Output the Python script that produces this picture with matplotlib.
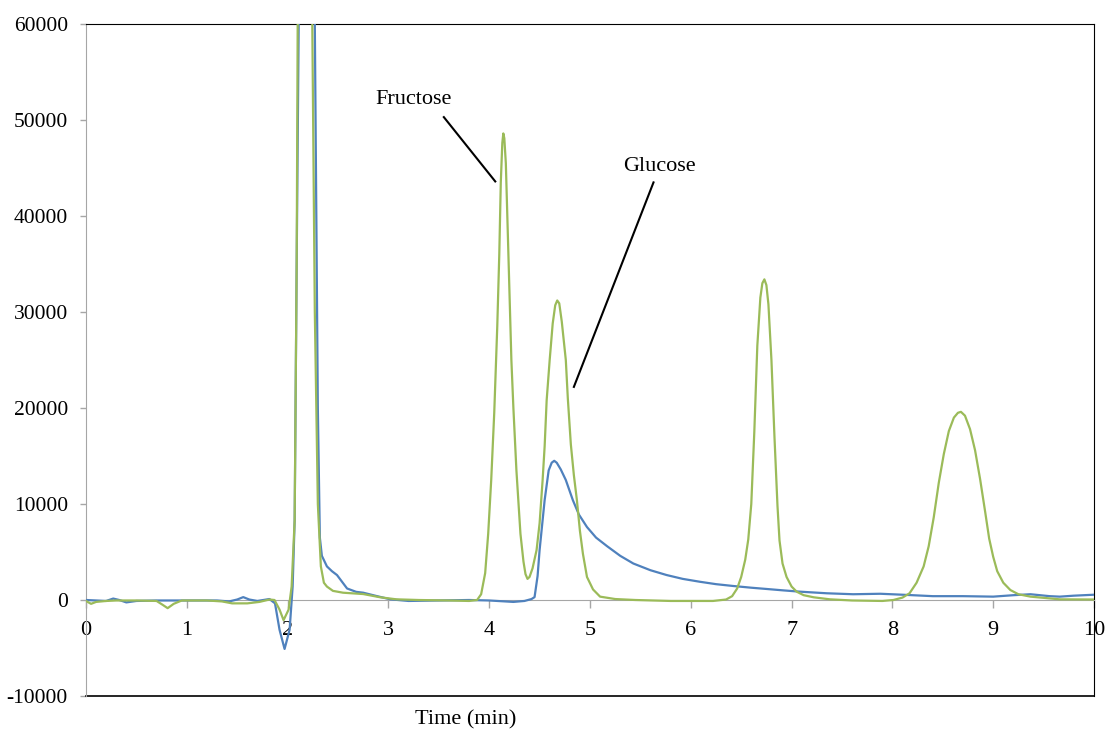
import matplotlib.pyplot as plt
from matplotlib.lines import Line2D

# =========================================
# Chromatogram data
# time in min, signal in counts
# =========================================

green_time = [
    0.00, 0.05, 0.10, 0.20, 0.30, 0.50, 0.70, 0.76, 0.81, 0.87, 0.95,
    1.20, 1.35, 1.45, 1.60, 1.72, 1.82, 1.87, 1.92, 1.96, 2.01, 2.04,
    2.07, 2.09, 2.10, 2.13, 2.17, 2.22, 2.245, 2.27, 2.30, 2.33, 2.36,
    2.39, 2.45, 2.55, 2.75, 2.92, 3.08, 3.30, 3.60, 3.80, 3.88, 3.92,
    3.96, 3.99, 4.02, 4.05, 4.08, 4.10, 4.115, 4.13, 4.14, 4.15, 4.165,
    4.18, 4.20, 4.22, 4.24, 4.27, 4.31, 4.34, 4.36, 4.38, 4.40, 4.43,
    4.47, 4.50, 4.53, 4.55, 4.57, 4.60, 4.63, 4.655, 4.675, 4.695, 4.72,
    4.76, 4.78, 4.81, 4.84, 4.87, 4.90, 4.93, 4.97, 5.03, 5.10, 5.25,
    5.45, 5.80, 6.22, 6.35, 6.41, 6.46, 6.50, 6.54, 6.57, 6.60, 6.63,
    6.66, 6.69, 6.71, 6.73, 6.75, 6.77, 6.80, 6.83, 6.86, 6.88, 6.91,
    6.95, 7.00, 7.05, 7.12, 7.22, 7.38, 7.60, 7.90, 8.01, 8.10, 8.17,
    8.24, 8.31, 8.36, 8.41, 8.46, 8.51, 8.56, 8.61, 8.65, 8.68, 8.72,
    8.77, 8.82, 8.87, 8.92, 8.96, 9.00, 9.04, 9.10, 9.17, 9.25, 9.37,
    9.66, 10.00,
]
green_signal = [
    -100, -400, -200, -100, -50, -50, -100, -500, -850, -400, -50,
    -50, -150, -350, -350, -200, 50, 0, -1000, -2100, -1000, 1400,
    8300, 35000, 60000, 90000, 95000, 90000, 60000, 30000, 10000, 3500, 1800,
    1400, 950, 760, 620, 280, 70, 0, -50, -100, 0, 600,
    2800, 6900, 12500, 19500, 28500, 36000, 43500, 47600, 48600, 48100, 45500,
    40000, 32500, 25000, 20000, 13500, 6900, 4000, 2700, 2200, 2400, 3300,
    5200, 8000, 12500, 16000, 20800, 25000, 28800, 30700, 31200, 30900, 29000,
    25000, 21000, 16200, 13000, 10400, 7200, 4800, 2400, 1100, 350, 100,
    0, -100, -100, 50, 400, 1200, 2400, 4200, 6300, 10000, 17500,
    26500, 31500, 33000, 33400, 32800, 30800, 25000, 17000, 9800, 6200, 3800,
    2400, 1400, 870, 500, 280, 70, -50, -100, 0, 250, 700,
    1800, 3500, 5600, 8600, 12200, 15200, 17600, 19000, 19500, 19600, 19200,
    17800, 15600, 12600, 9200, 6400, 4500, 3000, 1800, 1040, 600, 350,
    70, 50,
]

blue_time = [
    0.00, 0.10, 0.20, 0.27, 0.33, 0.40, 0.50, 0.70, 1.00, 1.30, 1.42,
    1.50, 1.56, 1.62, 1.70, 1.82, 1.875, 1.92, 1.97, 2.02, 2.05, 2.07,
    2.09, 2.11, 2.14, 2.19, 2.24, 2.27, 2.30, 2.32, 2.34, 2.39, 2.44,
    2.49, 2.59, 2.68, 2.75, 2.88, 3.02, 3.20, 3.50, 3.80, 4.00, 4.24,
    4.35, 4.42, 4.45, 4.48, 4.50, 4.55, 4.59, 4.62, 4.645, 4.67, 4.71,
    4.76, 4.83, 4.89, 4.97, 5.06, 5.17, 5.30, 5.43, 5.60, 5.76, 5.92,
    6.09, 6.25, 6.42, 6.60, 6.75, 6.92, 7.08, 7.35, 7.61, 7.88, 8.10,
    8.40, 8.70, 9.00, 9.20, 9.37, 9.56, 9.66, 9.80, 10.00,
]
blue_signal = [
    0, -50, -100, 150, 0, -250, -100, -50, -50, -50, -150,
    50, 300, 50, -100, 100, -350, -3100, -5100, -3100, 1400, 8300,
    35000, 60000, 90000, 95000, 90000, 60000, 20000, 6500, 4600, 3500, 3000,
    2600, 1200, 850, 760, 420, 70, -100, -50, 0, -50, -200,
    -100, 100, 300, 2500, 5200, 10400, 13500, 14300, 14500, 14300, 13600,
    12500, 10400, 8900, 7600, 6500, 5600, 4600, 3800, 3100, 2600, 2200,
    1900, 1650, 1460, 1280, 1150, 1000, 870, 700, 600, 650, 550,
    400, 400, 350, 500, 600, 400, 350, 450, 550,
]

x_ticks = [0, 1, 2, 3, 4, 5, 6, 7, 8, 9, 10]
y_ticks = [-10000, 0, 10000, 20000, 30000, 40000, 50000, 60000]

# peak labels: (text, text position, pointer line start, pointer line end)
labels = [
    ("Fructose", (3.25, 52100), (3.55, 50300), (4.06, 43600)),
    ("Glucose", (5.69, 45200), (5.63, 43500), (4.84, 22200)),
]

plt.rcParams["font.family"] = ["Liberation Serif", "DejaVu Serif"]
plt.rcParams["axes.unicode_minus"] = False

fig = plt.figure(figsize=(11.08, 7.33), dpi=100)
ax = fig.add_axes([86 / 1108, 37 / 733, 1008 / 1108, 672 / 733])

ax.plot(blue_time, blue_signal, color="#4F81BD", linewidth=1.6, zorder=3)
ax.plot(green_time, green_signal, color="#9BBB59", linewidth=1.6, zorder=4)

ax.set_xlim(0, 10)
ax.set_ylim(-10000, 60000)

# x axis sits on y = 0, grey like the y axis
axis_grey = "#A6A6A6"
ax.spines["bottom"].set_position(("data", 0))
ax.spines["bottom"].set_color(axis_grey)
ax.spines["left"].set_color(axis_grey)
ax.spines["top"].set_color("black")
ax.spines["right"].set_color("black")

# black frame line at the bottom of the plot area
ax.add_line(Line2D([0, 1], [0, 0], transform=ax.transAxes, color="black",
                   linewidth=1.2, clip_on=False))

ax.set_xticks(x_ticks)
ax.set_yticks(y_ticks)
ax.tick_params(axis="x", direction="out", length=6, width=1, color=axis_grey,
               pad=9, labelsize=16)
ax.tick_params(axis="y", direction="out", length=4, width=1, color=axis_grey,
               pad=9, labelsize=15.5)

for text, text_pos, start, end in labels:
    ax.text(text_pos[0], text_pos[1], text, fontsize=16, ha="center", va="center")
    ax.plot([start[0], end[0]], [start[1], end[1]], color="black",
            linewidth=1.5, zorder=5)

fig.text(466 / 1108, 1 - 720 / 733, "Time (min)", fontsize=16,
         ha="center", va="center")

fig.savefig("out.png", dpi=100)
